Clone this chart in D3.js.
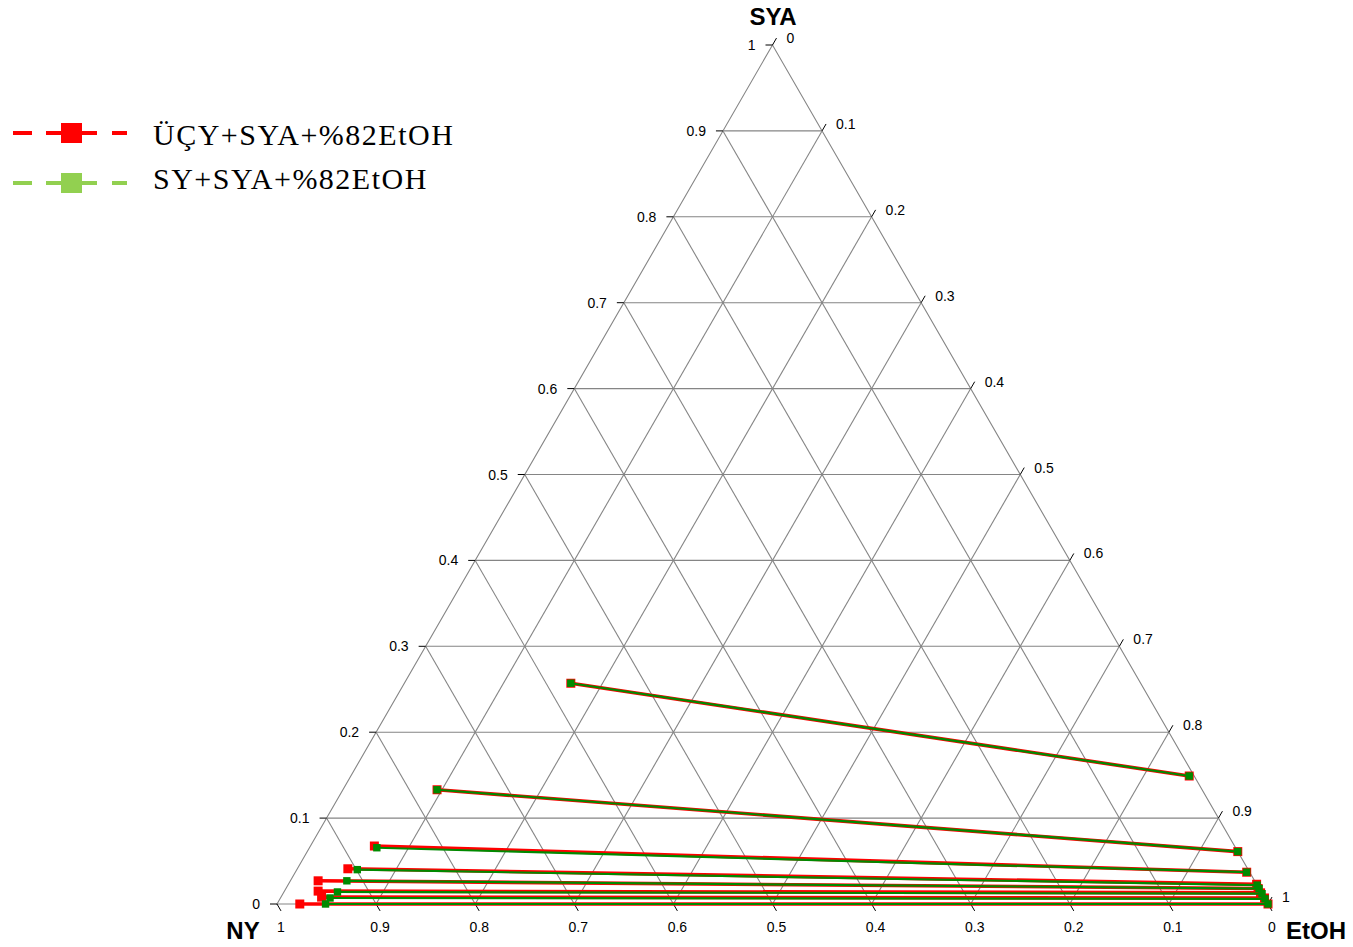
<!DOCTYPE html>
<html>
<head>
<meta charset="utf-8">
<script src="https://cdn.jsdelivr.net/npm/d3@7"></script>
<style>
  html, body { margin: 0; padding: 0; background: #fff; }
  svg { display: block; }
</style>
</head>
<body>
<svg id="chart" width="1353" height="947"></svg>
<script>
// Tie lines: each composition is [NY, SYA, EtOH] mass fractions.
const seriesNames = ["ÜÇY+SYA+%82EtOH", "SY+SYA+%82EtOH"];

// ÜÇY + SYA + %82 EtOH — NY-rich phase (left ends)
const ucyNYPhase = [
  [0.575, 0.257, 0.168],
  [0.772, 0.133, 0.095],
  [0.868, 0.0675, 0.0645],
  [0.908, 0.041, 0.051],
  [0.945, 0.027, 0.028],
  [0.951, 0.015, 0.034],
  [0.951, 0.008, 0.041],
  [0.977, 0.000, 0.023]
];
// ÜÇY + SYA + %82 EtOH — EtOH-rich phase (right ends)
const ucyEtOHPhase = [
  [0.005, 0.149, 0.846],
  [0.000, 0.061, 0.939],
  [0.003, 0.037, 0.960],
  [0.000, 0.023, 0.977],
  [0.001, 0.018, 0.981],
  [0.001, 0.013, 0.986],
  [0.000, 0.007, 0.993],
  [0.000, 0.000, 1.000]
];
// SY + SYA + %82 EtOH — NY-rich phase (left ends)
const syNYPhase = [
  [0.575, 0.257, 0.168],
  [0.772, 0.133, 0.095],
  [0.8665, 0.0655, 0.068],
  [0.899, 0.040, 0.061],
  [0.916, 0.027, 0.057],
  [0.932, 0.014, 0.054],
  [0.943, 0.007, 0.050],
  [0.951, 0.000, 0.049]
];
// SY + SYA + %82 EtOH — EtOH-rich phase (right ends)
const syEtOHPhase = [
  [0.005, 0.149, 0.846],
  [0.000, 0.061, 0.939],
  [0.003, 0.037, 0.960],
  [0.000, 0.022, 0.978],
  [0.000, 0.018, 0.982],
  [0.000, 0.012, 0.988],
  [0.000, 0.006, 0.994],
  [0.000, 0.000, 1.000]
];

const gridValues = [0.1, 0.2, 0.3, 0.4, 0.5, 0.6, 0.7, 0.8, 0.9];
const tickValues = [0, 0.1, 0.2, 0.3, 0.4, 0.5, 0.6, 0.7, 0.8, 0.9, 1];

const svg = d3.select("#chart");

// Cartesian scales for the triangle: u = EtOH + SYA/2 across, SYA upward
const xScale = d3.scaleLinear().domain([0, 1]).range([277, 1268]);
const yScale = d3.scaleLinear().domain([0, 1]).range([904, 45]);

function project(c) {
  const sya = c[1], etoh = c[2];
  return [xScale(etoh + sya / 2), yScale(sya)];
}

const fmt = v => (v === 0 || v === 1) ? String(v) : d3.format(".1f")(v);

// Grid lines
const gridG = svg.append("g").attr("stroke", "#858585").attr("stroke-width", 1.1).attr("fill", "none");
const line = d3.line();
gridValues.forEach(v => {
  // constant SYA
  gridG.append("path").attr("d", line([project([1 - v, v, 0]), project([0, v, 1 - v])]));
  // constant NY
  gridG.append("path").attr("d", line([project([v, 0, 1 - v]), project([v, 1 - v, 0])]));
  // constant EtOH
  gridG.append("path").attr("d", line([project([1 - v, 0, v]), project([0, 1 - v, v])]));
});
// Triangle outline
gridG.append("path").attr("d", line([project([1, 0, 0]), project([0, 1, 0]), project([0, 0, 1])]) + "Z");

// Axes ticks and labels
const axisG = svg.append("g").attr("font-family", "Liberation Sans, Arial, sans-serif").attr("font-size", 14).attr("fill", "#000");
const tickLen = 8;
tickValues.forEach(v => {
  // SYA axis on the left edge
  let p = project([1 - v, v, 0]);
  axisG.append("line").attr("x1", p[0]).attr("y1", p[1]).attr("x2", p[0] - 7).attr("y2", p[1]).attr("stroke", "#000").attr("stroke-width", 1);
  axisG.append("text").attr("x", p[0] - 17).attr("y", p[1] + 5).attr("text-anchor", "end").text(fmt(v));

  // NY axis along the bottom edge (1 at left)
  p = project([v, 0, 1 - v]);
  axisG.append("line").attr("x1", p[0]).attr("y1", p[1]).attr("x2", p[0] + tickLen * 0.5).attr("y2", p[1] + tickLen * 0.866).attr("stroke", "#000").attr("stroke-width", 1);
  axisG.append("text").attr("x", p[0] + 4).attr("y", p[1] + 28).attr("text-anchor", "middle").text(fmt(v));

  // EtOH axis along the right edge (0 at top)
  p = project([0, 1 - v, v]);
  axisG.append("line").attr("x1", p[0]).attr("y1", p[1]).attr("x2", p[0] + tickLen * 0.5).attr("y2", p[1] - tickLen * 0.866).attr("stroke", "#000").attr("stroke-width", 1);
  axisG.append("text").attr("x", p[0] + 14).attr("y", p[1] - 2).attr("text-anchor", "start").text(fmt(v));
});

// Vertex titles
const titleG = svg.append("g").attr("font-family", "Liberation Sans, Arial, sans-serif").attr("font-size", 24).attr("font-weight", "bold").attr("fill", "#000");
titleG.append("text").attr("x", 773).attr("y", 25).attr("text-anchor", "middle").text("SYA");
titleG.append("text").attr("x", 243).attr("y", 939).attr("text-anchor", "middle").text("NY");
titleG.append("text").attr("x", 1316).attr("y", 939).attr("text-anchor", "middle").text("EtOH");

// Tie lines and end points
function drawSeries(nyPhase, etohPhase, color, lineWidth, size) {
  const g = svg.append("g");
  nyPhase.forEach((c, i) => {
    g.append("path")
      .attr("d", line([project(c), project(etohPhase[i])]))
      .attr("stroke", color).attr("stroke-width", lineWidth).attr("fill", "none");
  });
  const pts = nyPhase.concat(etohPhase);
  g.selectAll("rect").data(pts).join("rect")
    .attr("x", d => project(d)[0] - size / 2)
    .attr("y", d => project(d)[1] - size / 2)
    .attr("width", size).attr("height", size)
    .attr("fill", color);
}
drawSeries(ucyNYPhase, ucyEtOHPhase, "#ff0000", 3.6, 9);
drawSeries(syNYPhase, syEtOHPhase, "#008a00", 2.2, 7.4);

// Legend
const legendColors = ["#ff0000", "#92d050"];
const legendMarkerY = [133, 183];
const legendTextY = [145, 189];
const legendG = svg.append("g");
seriesNames.forEach((name, i) => {
  const cy = legendMarkerY[i];
  const g = legendG.append("g");
  [[13, 32], [46, 97], [112, 127]].forEach(s => {
    g.append("line").attr("x1", s[0]).attr("x2", s[1]).attr("y1", cy).attr("y2", cy)
      .attr("stroke", legendColors[i]).attr("stroke-width", 4);
  });
  g.append("rect").attr("x", 61).attr("y", cy - 10).attr("width", 21).attr("height", 20).attr("fill", legendColors[i]);
  g.append("text").attr("x", 153).attr("y", legendTextY[i])
    .attr("font-family", "Liberation Serif, Times New Roman, serif").attr("font-size", 30)
    .attr("letter-spacing", 1.5)
    .attr("fill", "#000").text(name);
});
</script>
</body>
</html>
